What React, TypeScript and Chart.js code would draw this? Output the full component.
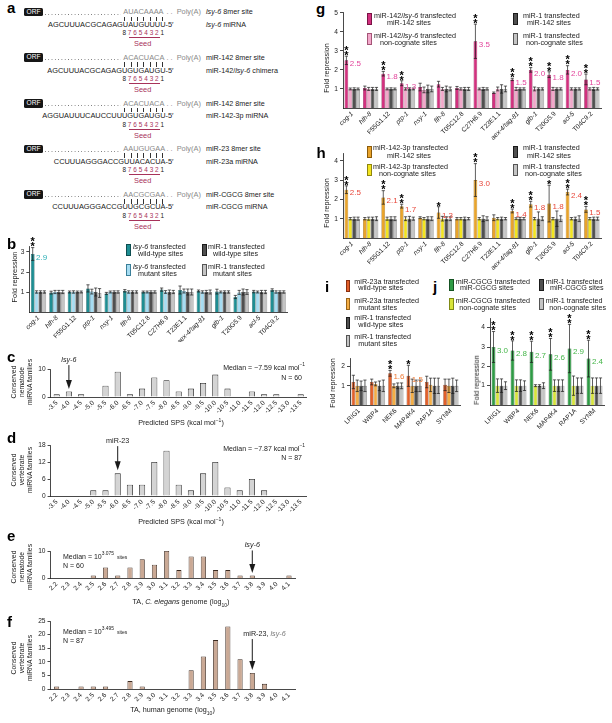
import React, { useEffect, useRef } from 'react';
import { Chart, registerables } from 'chart.js';

Chart.register(...registerables);

const FONT = '"Liberation Sans", Arial, Helvetica, sans-serif';
const INK = '#1a1a1a';
const TICK = 6.6;
const TXT = 7.2;
const SEED = '#a7325a';

// ---------------- categories ----------------
const geneNames = ['cog-1', 'hlh-8', 'F55G1.12', 'ptp-1', 'nsy-1', 'flh-8', 'T05C12.8', 'C27H6.9', 'T23E1.1', 'aex-4/tag-81', 'glb-1', 'T20G5.9', 'acl-5', 'T04C9.2'];
const geneItalic = [true, true, false, true, true, true, false, false, false, true, true, false, true, false];
const humanGenes = ['LRIG1', 'WBP4', 'NEK6', 'MAP4K4', 'RAP1A', 'SYNM'];
const spsBins = ['-3.5', '-4.0', '-4.5', '-5.0', '-5.5', '-6.0', '-6.5', '-7.0', '-7.5', '-8.0', '-8.5', '-9.0', '-9.5', '-10.0', '-10.5', '-11.0', '-11.5', '-12.0', '-12.5', '-13.0', '-13.5'];
const taBins = ['2.2', '2.3', '2.4', '2.5', '2.6', '2.7', '2.8', '2.9', '3.0', '3.1', '3.2', '3.3', '3.4', '3.5', '3.6', '3.7', '3.8', '3.9', '4.0', '4.1'];

// ---------------- panel b ----------------
const bLsy6WildType = [2.9, 0.97, 1.0, 1.18, 0.93, 1.06, 1.0, 1.12, 1.1, 1.05, 1.02, 0.75, 1.02, 1.1];
const bLsy6WildTypeErr = [0.32, 0.07, 0.05, 0.18, 0.05, 0.06, 0.05, 0.08, 0.2, 0.05, 0.12, 0.08, 0.06, 0.06];
const bLsy6Mutant = [1.0, 1.0, 1.0, 1.02, 1.0, 1.0, 1.0, 1.0, 1.05, 1.0, 1.0, 0.98, 1.0, 1.0];
const bLsy6MutantErr = [0.06, 0.08, 0.06, 0.12, 0.05, 0.06, 0.05, 0.07, 0.1, 0.06, 0.05, 0.1, 0.05, 0.06];
const bMir1WildType = [1.0, 1.0, 1.0, 1.0, 1.0, 1.0, 1.0, 1.0, 1.0, 1.0, 1.0, 1.0, 1.0, 1.0];
const bMir1WildTypeErr = [0.06, 0.08, 0.05, 0.2, 0.06, 0.06, 0.06, 0.1, 0.15, 0.08, 0.06, 0.15, 0.08, 0.06];
const bMir1Mutant = [1.0, 1.0, 1.0, 0.95, 1.0, 1.0, 1.0, 1.0, 1.0, 1.0, 1.0, 1.0, 1.0, 1.0];
const bMir1MutantErr = [0.06, 0.08, 0.05, 0.22, 0.06, 0.06, 0.06, 0.08, 0.15, 0.1, 0.06, 0.12, 0.08, 0.06];
const bStars = [2, 0, 0, 0, 0, 0, 0, 0, 0, 0, 0, 0, 0, 0];
const bValueLabels = ['2.9', '', '', '', '', '', '', '', '', '', '', '', '', ''];

// ---------------- panel c / d (SPS histograms) ----------------
const cNematodeFamilies = [1, 2, 1, 0, 4, 9, 1, 3, 7, 6, 2, 3, 5, 8, 3, 0, 2, 1, 1, 0, 1];
const dVertebrateFamilies = [0, 0, 0, 2, 2, 8, 4, 4, 12, 16, 4, 2, 8, 12, 3, 2, 6, 2, 0, 0, 0];

// ---------------- panel e / f (TA histograms) ----------------
const eNematodeFamilies = [0, 0, 0, 1, 4, 1, 4, 7, 5, 10, 3, 8, 8, 3, 3, 1, 1, 0, 0, 1];
const fVertebrateFamilies = [1, 0, 1, 1, 1, 0, 3, 1, 0, 0, 0, 7, 12, 18, 23, 11, 6, 2, 0, 0];

// ---------------- panel g ----------------
const gChimeraMir142Sites = [2.5, 1.05, 1.8, 1.3, 1.1, 1.25, 1.05, 3.5, 0.8, 1.5, 2.0, 1.75, 2.0, 1.5];
const gChimeraMir142SitesErr = [0.22, 0.1, 0.12, 0.13, 0.2, 0.15, 0.08, 0.9, 0.04, 0.06, 0.12, 0.15, 0.22, 0.28];
const gChimeraNonCognate = [1.0, 1.0, 1.0, 1.0, 0.95, 1.0, 1.0, 1.0, 1.0, 1.0, 1.0, 1.0, 1.0, 1.0];
const gChimeraNonCognateErr = [0.05, 0.08, 0.05, 0.06, 0.15, 0.08, 0.06, 0.05, 0.1, 0.08, 0.1, 0.08, 0.06, 0.06];
const gMir1Mir142Sites = [1.0, 1.0, 1.0, 1.0, 1.0, 1.0, 1.0, 1.0, 1.0, 1.0, 1.0, 1.0, 1.0, 1.0];
const gMir1Mir142SitesErr = [0.06, 0.08, 0.06, 0.06, 0.2, 0.15, 0.08, 0.08, 0.22, 0.06, 0.06, 0.06, 0.06, 0.08];
const gMir1NonCognate = [1.0, 1.0, 1.0, 1.0, 1.0, 1.0, 1.0, 1.0, 1.0, 1.0, 1.0, 1.0, 1.0, 1.0];
const gMir1NonCognateErr = [0.05, 0.08, 0.05, 0.05, 0.15, 0.1, 0.08, 0.06, 0.15, 0.06, 0.06, 0.06, 0.06, 0.06];
const gStars = [2, 0, 2, 2, 0, 0, 0, 2, 0, 2, 2, 2, 2, 2];
const gValueLabels = ['2.5', '', '1.8', '1.3', '', '', '', '3.5', '', '1.5', '2.0', '1.8', '2.0', '1.5'];

// ---------------- panel h ----------------
const h3pMir142Sites = [2.5, 1.0, 2.1, 1.65, 1.05, 1.32, 1.0, 3.0, 1.05, 1.4, 1.75, 1.78, 2.38, 1.48];
const h3pMir142SitesErr = [0.2, 0.06, 0.35, 0.1, 0.05, 0.3, 0.06, 0.85, 0.15, 0.1, 0.15, 0.95, 0.15, 0.15];
const h3pNonCognate = [1.0, 1.0, 1.0, 1.0, 1.0, 1.0, 1.0, 1.0, 1.0, 1.0, 1.0, 1.0, 1.0, 1.0];
const h3pNonCognateErr = [0.06, 0.08, 0.08, 0.1, 0.06, 0.12, 0.06, 0.06, 0.06, 0.05, 0.06, 0.06, 0.06, 0.06];
const hMir1Mir142Sites = [1.0, 1.0, 1.0, 1.0, 1.0, 1.0, 1.0, 1.0, 1.0, 1.0, 1.0, 1.0, 1.0, 1.0];
const hMir1Mir142SitesErr = [0.08, 0.08, 0.1, 0.12, 0.1, 0.1, 0.08, 0.15, 0.08, 0.06, 0.35, 0.4, 0.08, 0.08];
const hMir1NonCognate = [1.0, 1.0, 1.0, 1.0, 1.0, 1.0, 1.0, 1.0, 1.0, 1.0, 1.0, 1.0, 1.0, 1.0];
const hMir1NonCognateErr = [0.08, 0.1, 0.1, 0.08, 0.1, 0.1, 0.06, 0.1, 0.06, 0.06, 0.1, 0.15, 0.15, 0.08];
const hStars = [2, 0, 2, 2, 0, 1, 0, 2, 0, 2, 2, 1, 2, 2];
const hValueLabels = ['2.5', '', '2.1', '1.7', '', '1.3', '', '3.0', '', '1.4', '1.8', '1.8', '2.4', '1.5'];

// ---------------- panel i ----------------
const iMir23WildType = [1.2, 1.2, 1.65, 1.52, 1.2, 1.05];
const iMir23WildTypeErr = [0.35, 0.15, 0.15, 0.55, 0.3, 0.3];
const iMir23Mutant = [1.0, 1.1, 1.0, 1.0, 1.05, 1.0];
const iMir23MutantErr = [0.3, 0.1, 0.1, 0.35, 0.35, 0.35];
const iMir1WildType = [1.0, 1.0, 1.0, 1.0, 1.0, 1.0];
const iMir1WildTypeErr = [0.25, 0.25, 0.15, 0.3, 0.4, 0.4];
const iMir1Mutant = [1.0, 1.0, 1.0, 1.0, 1.0, 1.0];
const iMir1MutantErr = [0.3, 0.3, 0.15, 0.3, 0.4, 0.3];
const iStars = [0, 0, 2, 1, 0, 0];
const iValueLabels = ['', '', '1.6', '1.5', '', ''];

// ---------------- panel j ----------------
const jCgcgSites = [3.0, 2.82, 2.75, 2.62, 2.92, 2.4];
const jCgcgSitesErr = [0.8, 0.5, 0.55, 0.82, 1.25, 0.95];
const jCgcgNonCognate = [1.0, 1.0, 1.0, 1.0, 1.0, 1.0];
const jCgcgNonCognateErr = [0.35, 0.3, 0.05, 0.3, 0.5, 0.4];
const jMir1CgcgSites = [1.0, 1.0, 1.0, 1.0, 1.0, 1.0];
const jMir1CgcgSitesErr = [0.35, 0.3, 0.05, 0.3, 0.4, 0.4];
const jMir1NonCognate = [1.0, 1.0, 1.0, 1.0, 1.0, 1.0];
const jMir1NonCognateErr = [0.2, 0.25, 0.15, 0.3, 0.4, 0.4];
const jStars = [2, 2, 2, 2, 2, 2];
const jValueLabels = ['3.0', '2.8', '2.7', '2.6', '2.9', '2.4'];

// ---------------- colours ----------------
const C = {
  teal: ['#1e8e93', '#0d4d50'], lblue: ['#a5dcf2', '#3b7f99'],
  dgray: ['#505050', '#1a1a1a'], lgray: ['#c4c4c4', '#555555'],
  magenta: ['#d2317f', '#7a1245'], pink: ['#f2a7ca', '#a45577'],
  orange: ['#e9a42b', '#8a5a0a'], yellow: ['#f3e51f', '#8f8510'],
  redor: ['#e2602a', '#8a3010'], lorange: ['#f5ae45', '#9a6518'],
  green: ['#2f9b45', '#155222'], ygreen: ['#d7e43a', '#7f8a15'],
};

// ---------------- layout helpers ----------------
type Rect = { L: number; T: number; R: number; B: number };
type Margins = { yw: number; pt: number; pr: number; xh: number };
type Box = { left: number; top: number; width: number; height: number; yw: number; pt: number; pr: number; xh: number };

function makeBox(a: Rect, m: Margins): Box {
  const left = Math.floor(a.L - m.yw);
  const top = Math.floor(a.T - m.pt);
  const width = Math.ceil(a.R + m.pr - left);
  const height = Math.ceil(a.B + m.xh - top);
  return { left, top, width, height, yw: a.L - left, pt: a.T - top, pr: left + width - a.R, xh: top + height - a.B };
}

const boxB = makeBox({ L: 29.3, T: 246, R: 287.2, B: 312 }, { yw: 18, pt: 12, pr: 3, xh: 30 });
const boxC = makeBox({ L: 50.6, T: 369, R: 306.8, B: 397 }, { yw: 18, pt: 14, pr: 3, xh: 20 });
const boxD = makeBox({ L: 50.6, T: 445, R: 306.8, B: 496 }, { yw: 18, pt: 10, pr: 3, xh: 20 });
const boxE = makeBox({ L: 50.5, T: 551, R: 295.1, B: 578.3 }, { yw: 18, pt: 14, pr: 3, xh: 18 });
const boxF = makeBox({ L: 50.5, T: 621, R: 295.1, B: 689.3 }, { yw: 18, pt: 18, pr: 3, xh: 18 });
const boxG = makeBox({ L: 343, T: 12.7, R: 601, B: 108 }, { yw: 16, pt: 10, pr: 3, xh: 36 });
const boxH = makeBox({ L: 343, T: 153, R: 601, B: 238 }, { yw: 16, pt: 8, pr: 3, xh: 38 });
const boxI = makeBox({ L: 350, T: 358, R: 460, B: 405 }, { yw: 16, pt: 10, pr: 3, xh: 26 });
const boxJ = makeBox({ L: 490, T: 318, R: 604, B: 405 }, { yw: 16, pt: 10, pr: 3, xh: 26 });

function baseOptions(box: Box) {
  return {
    animation: false,
    responsive: false,
    maintainAspectRatio: false,
    devicePixelRatio: 1,
    events: [],
    layout: { padding: { top: box.pt, right: box.pr, left: 0, bottom: 0 } },
    plugins: { legend: { display: false }, tooltip: { enabled: false }, title: { display: false } },
  };
}

function axisY(box: Box, ymax: number, yticks: number[]) {
  return {
    type: 'linear',
    min: 0,
    max: ymax,
    afterBuildTicks: (s: any) => { s.ticks = yticks.map((v) => ({ value: v })); },
    afterFit: (s: any) => { s.width = box.yw; s.paddingTop = 0; s.paddingBottom = 0; },
    grid: { display: true, drawOnChartArea: false, drawTicks: true, tickLength: 3, color: INK, lineWidth: 0.8 },
    border: { display: true, color: INK, width: 0.8 },
    ticks: { padding: 2, color: '#222', font: { family: FONT, size: TICK } },
  };
}

function axisX(box: Box, italic?: boolean[]) {
  return {
    type: 'category',
    offset: true,
    afterFit: (s: any) => { s.height = box.xh; s.paddingLeft = 0; s.paddingRight = 0; },
    grid: { display: false, drawTicks: false, tickLength: 0 },
    border: { display: true, color: INK, width: 0.8 },
    ticks: {
      autoSkip: false, minRotation: 45, maxRotation: 45, padding: 2, color: '#222',
      font: (c: any) => ({ family: FONT, size: TICK, style: italic && italic[c.index] ? 'italic' : 'normal' }),
    },
  };
}

type Series = { data: number[]; err: number[]; col: string[] };
type GroupPanel = {
  labels: string[]; italic?: boolean[]; series: Series[]; ymax: number; yticks: number[];
  stars: number[]; valueLabels: string[]; valueColor: string;
};

function overlayPlugin(p: GroupPanel) {
  return {
    id: 'overlay',
    afterDatasetsDraw(chart: any) {
      const ctx = chart.ctx;
      const ys = chart.scales.y;
      ctx.save();
      ctx.strokeStyle = INK;
      ctx.lineWidth = 0.7;
      p.series.forEach((s, di) => {
        const meta = chart.getDatasetMeta(di);
        meta.data.forEach((el: any, i: number) => {
          const v = s.data[i];
          const e = s.err[i];
          if (!e) return;
          const x = el.x;
          const yT = ys.getPixelForValue(v + e);
          const yB = ys.getPixelForValue(Math.max(0, v - e));
          const cap = Math.min(1.6, el.width / 2);
          ctx.beginPath();
          ctx.moveTo(x, yT); ctx.lineTo(x, yB);
          ctx.moveTo(x - cap, yT); ctx.lineTo(x + cap, yT);
          ctx.moveTo(x - cap, yB); ctx.lineTo(x + cap, yB);
          ctx.stroke();
        });
      });
      const meta0 = chart.getDatasetMeta(0);
      const main = p.series[0];
      meta0.data.forEach((el: any, i: number) => {
        const v = main.data[i];
        const top = ys.getPixelForValue(v + main.err[i]);
        ctx.fillStyle = '#000';
        ctx.font = `bold 11px ${FONT}`;
        ctx.textAlign = 'center';
        ctx.textBaseline = 'alphabetic';
        for (let k = 0; k < p.stars[i]; k++) {
          const cy = top - 3.5 - k * 5;
          ctx.fillText('*', el.x, cy + 6.3);
        }
        const lab = p.valueLabels[i];
        if (lab) {
          ctx.fillStyle = p.valueColor;
          ctx.font = `8px ${FONT}`;
          ctx.textAlign = 'left';
          ctx.textBaseline = 'middle';
          ctx.fillText(lab, el.x + el.width / 2 + 1.5, ys.getPixelForValue(v) + 3.5);
        }
      });
      ctx.restore();
    },
  };
}

function groupedChart(canvas: HTMLCanvasElement, box: Box, p: GroupPanel) {
  const datasets = p.series.map((s) => ({
    data: s.data,
    backgroundColor: s.col[0],
    borderColor: s.col[1],
    borderWidth: 0.6,
    categoryPercentage: 0.84,
    barPercentage: 0.95,
  }));
  return new Chart(canvas, {
    type: 'bar',
    data: { labels: p.labels, datasets },
    options: { ...baseOptions(box), scales: { x: axisX(box, p.italic), y: axisY(box, p.ymax, p.yticks) } },
    plugins: [overlayPlugin(p)],
  } as any);
}

type LabelPart = { text: string; italic?: boolean; color?: string };
type Arrow = { index: number; from: number; to: number; parts: LabelPart[]; anchor: number | null };
type HistPanel = { labels: string[]; data: number[]; col: string[]; ymax: number; yticks: number[]; barPct: number; arrow: Arrow };

function arrowPlugin(a: Arrow) {
  return {
    id: 'arrow',
    afterDatasetsDraw(chart: any) {
      const ctx = chart.ctx;
      const x = chart.scales.x.getPixelForValue(a.index);
      const y0 = chart.scales.y.getPixelForValue(a.from);
      const y1 = chart.scales.y.getPixelForValue(a.to);
      ctx.save();
      ctx.strokeStyle = INK;
      ctx.fillStyle = INK;
      ctx.lineWidth = 1;
      ctx.beginPath(); ctx.moveTo(x, y0); ctx.lineTo(x, y1 - 8); ctx.stroke();
      ctx.beginPath(); ctx.moveTo(x - 3, y1 - 9); ctx.lineTo(x + 3, y1 - 9); ctx.lineTo(x, y1); ctx.closePath(); ctx.fill();
      const fontOf = (pt: LabelPart) => `${pt.italic ? 'italic ' : ''}${TXT}px ${FONT}`;
      let total = 0;
      a.parts.forEach((pt) => { ctx.font = fontOf(pt); total += ctx.measureText(pt.text).width; });
      let cx = a.anchor === null ? x - total / 2 : x + a.anchor;
      ctx.textAlign = 'left';
      ctx.textBaseline = 'middle';
      a.parts.forEach((pt) => {
        ctx.font = fontOf(pt);
        ctx.fillStyle = pt.color || INK;
        ctx.fillText(pt.text, cx, y0 - 5);
        cx += ctx.measureText(pt.text).width;
      });
      ctx.restore();
    },
  };
}

function histChart(canvas: HTMLCanvasElement, box: Box, p: HistPanel) {
  return new Chart(canvas, {
    type: 'bar',
    data: {
      labels: p.labels,
      datasets: [{
        data: p.data,
        backgroundColor: p.col[0],
        borderColor: p.col[1],
        borderWidth: (c: any) => (c.raw > 0 ? 0.8 : 0),
        categoryPercentage: 1,
        barPercentage: p.barPct,
      }],
    },
    options: { ...baseOptions(box), scales: { x: axisX(box), y: axisY(box, p.ymax, p.yticks) } },
    plugins: [arrowPlugin(p.arrow)],
  } as any);
}

// ---------------- panel configs ----------------
const panelB: GroupPanel = {
  labels: geneNames, italic: geneItalic, ymax: 3.3, yticks: [1, 2, 3], stars: bStars, valueLabels: bValueLabels, valueColor: '#2aaeb5',
  series: [
    { data: bLsy6WildType, err: bLsy6WildTypeErr, col: C.teal },
    { data: bLsy6Mutant, err: bLsy6MutantErr, col: C.lblue },
    { data: bMir1WildType, err: bMir1WildTypeErr, col: C.dgray },
    { data: bMir1Mutant, err: bMir1MutantErr, col: C.lgray },
  ],
};
const panelG: GroupPanel = {
  labels: geneNames, italic: geneItalic, ymax: 5, yticks: [1, 2, 3, 4, 5], stars: gStars, valueLabels: gValueLabels, valueColor: '#e2449b',
  series: [
    { data: gChimeraMir142Sites, err: gChimeraMir142SitesErr, col: C.magenta },
    { data: gChimeraNonCognate, err: gChimeraNonCognateErr, col: C.pink },
    { data: gMir1Mir142Sites, err: gMir1Mir142SitesErr, col: C.dgray },
    { data: gMir1NonCognate, err: gMir1NonCognateErr, col: C.lgray },
  ],
};
const panelH: GroupPanel = {
  labels: geneNames, italic: geneItalic, ymax: 4.4, yticks: [1, 2, 3, 4], stars: hStars, valueLabels: hValueLabels, valueColor: '#e8473b',
  series: [
    { data: h3pMir142Sites, err: h3pMir142SitesErr, col: C.orange },
    { data: h3pNonCognate, err: h3pNonCognateErr, col: C.yellow },
    { data: hMir1Mir142Sites, err: hMir1Mir142SitesErr, col: C.dgray },
    { data: hMir1NonCognate, err: hMir1NonCognateErr, col: C.lgray },
  ],
};
const panelI: GroupPanel = {
  labels: humanGenes, ymax: 2.45, yticks: [1, 2], stars: iStars, valueLabels: iValueLabels, valueColor: '#ef7a35',
  series: [
    { data: iMir23WildType, err: iMir23WildTypeErr, col: C.redor },
    { data: iMir23Mutant, err: iMir23MutantErr, col: C.lorange },
    { data: iMir1WildType, err: iMir1WildTypeErr, col: C.dgray },
    { data: iMir1Mutant, err: iMir1MutantErr, col: C.lgray },
  ],
};
const panelJ: GroupPanel = {
  labels: humanGenes, ymax: 4.5, yticks: [1, 2, 3, 4], stars: jStars, valueLabels: jValueLabels, valueColor: '#45b649',
  series: [
    { data: jCgcgSites, err: jCgcgSitesErr, col: C.green },
    { data: jCgcgNonCognate, err: jCgcgNonCognateErr, col: C.ygreen },
    { data: jMir1CgcgSites, err: jMir1CgcgSitesErr, col: C.dgray },
    { data: jMir1NonCognate, err: jMir1NonCognateErr, col: C.lgray },
  ],
};

const histGray = ['#d4d4d4', '#1a1a1a'];
const histTan = ['#caa995', '#3b2a20'];
const panelC: HistPanel = { labels: spsBins, data: cNematodeFamilies, col: histGray, ymax: 10, yticks: [0, 10], barPct: 0.5,
  arrow: { index: 1, from: 11.4, to: 2.9, parts: [{ text: 'lsy-6', italic: true }], anchor: null } };
const panelD: HistPanel = { labels: spsBins, data: dVertebrateFamilies, col: histGray, ymax: 18, yticks: [0, 6, 12, 18], barPct: 0.5,
  arrow: { index: 5, from: 17.6, to: 9.1, parts: [{ text: 'miR-23' }], anchor: null } };
const panelE: HistPanel = { labels: taBins, data: eNematodeFamilies, col: histTan, ymax: 10, yticks: [0, 10], barPct: 0.42,
  arrow: { index: 16, from: 10.2, to: 1.9, parts: [{ text: 'lsy-6', italic: true }], anchor: null } };
const panelF: HistPanel = { labels: taBins, data: fVertebrateFamilies, col: histTan, ymax: 25, yticks: [0, 5, 10, 15, 20, 25], barPct: 0.42,
  arrow: { index: 16, from: 18.4, to: 7.1, parts: [{ text: 'miR-23, ' }, { text: 'lsy-6', italic: true, color: '#777' }], anchor: -9 } };

// ---------------- panel a content ----------------
const seedRows = [
  { site: 'AUACAAAA', mirna: 'AGCUUUACGCAGAGUAUGUUUU-5\u2032', siteLabel: <><i>lsy-6</i> 8mer site</>, mirnaLabel: <><i>lsy-6</i> miRNA</> },
  { site: 'ACACUACA', mirna: 'AGCUUUACGCAGAGUGUGAUGU-5\u2032', siteLabel: <>miR-142 8mer site</>, mirnaLabel: <>miR-142/<i>lsy-6</i> chimera</> },
  { site: 'ACACUACA', mirna: 'AGGUAUUUCAUCCUUUGUGAUGU-5\u2032', siteLabel: <>miR-142 8mer site</>, mirnaLabel: <>miR-142-3p miRNA</> },
  { site: 'AAUGUGAA', mirna: 'CCUUUAGGGACCGUUACACUA-5\u2032', siteLabel: <>miR-23 8mer site</>, mirnaLabel: <>miR-23a miRNA</> },
  { site: 'AACGCGAA', mirna: 'CCUUUAGGGACCGUUGCGCUA-5\u2032', siteLabel: <>miR-CGCG 8mer site</>, mirnaLabel: <>miR-CGCG miRNA</> },
];

// ---------------- components ----------------
function ChartCanvas({ box, build }: { box: Box; build: (c: HTMLCanvasElement) => Chart }) {
  const ref = useRef<HTMLCanvasElement>(null);
  useEffect(() => {
    const chart = build(ref.current as HTMLCanvasElement);
    return () => chart.destroy();
  }, []);
  return (
    <canvas ref={ref} width={box.width} height={box.height}
      style={{ position: 'absolute', left: box.left, top: box.top, width: box.width, height: box.height }} />
  );
}

function Txt({ x, y, size = TXT, align = 'left', color = INK, children, style }: any) {
  const tx = align === 'left' ? '0' : align === 'center' ? '-50%' : '-100%';
  return (
    <div style={{ position: 'absolute', left: x, top: y, transform: `translate(${tx},-50%)`, fontSize: size, lineHeight: 1,
      whiteSpace: 'nowrap', color, fontFamily: FONT, ...style }}>{children}</div>
  );
}

function VTitle({ x, y, lines, size = TXT, lh = 1.15 }: any) {
  return (
    <div style={{ position: 'absolute', left: x, top: y, transform: 'translate(-50%,-50%) rotate(-90deg)', textAlign: 'center',
      fontSize: size, lineHeight: lh, whiteSpace: 'nowrap', fontFamily: FONT, color: INK }}>
      {lines.map((l: string, i: number) => <div key={i}>{l}</div>)}
    </div>
  );
}

function Letter({ x, base, ch }: any) {
  const size = 15;
  return <div style={{ position: 'absolute', left: x, top: base - 0.8465 * size, fontSize: size, lineHeight: `${size}px`,
    fontWeight: 700, fontFamily: FONT, color: '#000' }}>{ch}</div>;
}

function Swatch({ x, top, col }: any) {
  return <div style={{ position: 'absolute', left: x, top, width: 4.5, height: 12, background: col[0],
    border: `0.6px solid ${col[1]}`, boxSizing: 'border-box' }} />;
}

function LegendItem({ sx, sTop, col, l1, l2 }: any) {
  return (
    <>
      <Swatch x={sx} top={sTop} col={col} />
      <Txt x={l1[0]} y={l1[1]}>{l1[2]}</Txt>
      <Txt x={l2[0]} y={l2[1]}>{l2[2]}</Txt>
    </>
  );
}

function SeedPanel() {
  const out: any[] = [];
  seedRows.forEach((r, k) => {
    const y0 = 12.3 + k * 45.6;
    out.push(<div key={`orf${k}`} style={{ position: 'absolute', left: 24, top: y0 - 4.5, width: 19, height: 8.5, background: '#161616',
      borderRadius: 1.5, color: '#fff', fontSize: 6.6, lineHeight: '8.5px', textAlign: 'center', fontFamily: FONT }}>ORF</div>);
    out.push(<div key={`dot${k}`} style={{ position: 'absolute', left: 45, top: y0 + 1.5, width: 76, height: 1,
      backgroundImage: 'linear-gradient(to right, #777 1px, transparent 1px)', backgroundSize: '3.3px 1px' }} />);
    out.push(<Txt key={`site${k}`} x={123.3} y={y0} size={7.4} color="#8a8a8a">{r.site}</Txt>);
    out.push(<Txt key={`dd${k}`} x={166.5} y={y0} size={7.4} color="#8a8a8a">. .</Txt>);
    out.push(<Txt key={`pa${k}`} x={176.7} y={y0} size={7.4} color="#8a8a8a">Poly(A)</Txt>);
    out.push(<Txt key={`sl${k}`} x={206} y={y0} size={7.2}>{r.siteLabel}</Txt>);
    for (let j = 0; j < 7; j++) {
      out.push(<div key={`bar${k}-${j}`} style={{ position: 'absolute', left: 124.3 + j * 6.3, top: y0 + 4.3, width: 0.8, height: 4.6, background: '#333' }} />);
    }
    out.push(<Txt key={`mi${k}`} x={173.5} y={y0 + 12.7} size={7.4} align="right">{r.mirna}</Txt>);
    out.push(<Txt key={`ml${k}`} x={206} y={y0 + 12.7} size={7.2}>{r.mirnaLabel}</Txt>);
    '87654321'.split('').forEach((d, j) => {
      out.push(<Txt key={`dg${k}-${j}`} x={124.2 + j * 5.45} y={y0 + 21} size={6.4} align="center" color={j >= 1 && j <= 6 ? SEED : INK}>{d}</Txt>);
    });
    out.push(<div key={`ul${k}`} style={{ position: 'absolute', left: 129, top: y0 + 25, width: 30.5, height: 0.9, background: SEED }} />);
    out.push(<Txt key={`sd${k}`} x={142.7} y={y0 + 32} size={7.4} align="center" color={SEED}>Seed</Txt>);
  });
  return <>{out}</>;
}

const sup = (t: string) => <sup style={{ fontSize: '0.7em', lineHeight: 0, verticalAlign: 'super' }}>{t}</sup>;
const sub = (t: string) => <sub style={{ fontSize: '0.7em', lineHeight: 0, verticalAlign: 'sub' }}>{t}</sub>;

export default function App() {
  return (
    <div style={{ position: 'absolute', left: 0, top: 0, width: 612, height: 723, background: '#fff', overflow: 'hidden', fontFamily: FONT }}>
      <ChartCanvas box={boxB} build={(c) => groupedChart(c, boxB, panelB)} />
      <ChartCanvas box={boxC} build={(c) => histChart(c, boxC, panelC)} />
      <ChartCanvas box={boxD} build={(c) => histChart(c, boxD, panelD)} />
      <ChartCanvas box={boxE} build={(c) => histChart(c, boxE, panelE)} />
      <ChartCanvas box={boxF} build={(c) => histChart(c, boxF, panelF)} />
      <ChartCanvas box={boxG} build={(c) => groupedChart(c, boxG, panelG)} />
      <ChartCanvas box={boxH} build={(c) => groupedChart(c, boxH, panelH)} />
      <ChartCanvas box={boxI} build={(c) => groupedChart(c, boxI, panelI)} />
      <ChartCanvas box={boxJ} build={(c) => groupedChart(c, boxJ, panelJ)} />

      <SeedPanel />

      <Letter x={7} base={13} ch="a" />
      <Letter x={7} base={249} ch="b" />
      <Letter x={7} base={362} ch="c" />
      <Letter x={7} base={443} ch="d" />
      <Letter x={7} base={541} ch="e" />
      <Letter x={7} base={627} ch="f" />
      <Letter x={316} base={14} ch="g" />
      <Letter x={316.5} base={158} ch="h" />
      <Letter x={325} base={292} ch="i" />
      <Letter x={433} base={292} ch="j" />

      {/* axis titles */}
      <VTitle x={14.5} y={277} lines={['Fold repression']} size={7.4} />
      <VTitle x={22} y={382} lines={['Conserved', 'nematode', 'miRNA families']} size={6.8} />
      <VTitle x={22} y={470} lines={['Conserved', 'vertebrate', 'miRNA families']} size={6.8} />
      <VTitle x={22} y={567} lines={['Conserved', 'nematode', 'miRNA families']} size={6.8} />
      <VTitle x={22} y={658} lines={['Conserved', 'vertebrate', 'miRNA families']} size={6.8} />
      <VTitle x={327} y={68} lines={['Fold repression']} size={7.2} />
      <VTitle x={327} y={203} lines={['Fold repression']} size={7.2} />
      <VTitle x={333} y={383} lines={['Fold repression']} size={7.2} />
      <VTitle x={477} y={380} lines={['Fold repression']} size={7.2} />

      <Txt x={181} y={423} align="center">Predicted SPS (kcal mol{sup('\u22121')})</Txt>
      <Txt x={181} y={522} align="center">Predicted SPS (kcal mol{sup('\u22121')})</Txt>
      <Txt x={181} y={602} align="center">TA, <i>C. elegans</i> genome (log{sub('10')})</Txt>
      <Txt x={172.5} y={710} align="center">TA, human genome (log{sub('10')})</Txt>

      {/* histogram annotations */}
      <Txt x={305} y={367} align="right" size={7}>Median = {'\u2212'}7.59 kcal mol{sup('\u22121')}</Txt>
      <Txt x={302} y={377} align="right" size={7}>N = 60</Txt>
      <Txt x={305} y={448} align="right" size={7}>Median = {'\u2212'}7.87 kcal mol{sup('\u22121')}</Txt>
      <Txt x={302} y={457} align="right" size={7}>N = 87</Txt>
      <Txt x={63} y={556} size={7}>Median = 10{sup('3.075')}<span style={{ fontSize: 5, marginLeft: 3 }}>sites</span></Txt>
      <Txt x={63} y={565} size={7}>N = 60</Txt>
      <Txt x={63} y={631} size={7}>Median = 10{sup('3.495')}<span style={{ fontSize: 5, marginLeft: 3 }}>sites</span></Txt>
      <Txt x={63} y={640} size={7}>N = 87</Txt>

      {/* legend b */}
      <LegendItem sx={126} sTop={244} col={C.teal} l1={[133, 247, <><i>lsy-6</i> transfected</>]} l2={[138, 254, 'wild-type sites']} />
      <LegendItem sx={126} sTop={264} col={C.lblue} l1={[133, 267, <><i>lsy-6</i> transfected</>]} l2={[138, 274, 'mutant sites']} />
      <LegendItem sx={202} sTop={244} col={C.dgray} l1={[208, 247, 'miR-1 transfected']} l2={[213, 254, 'wild-type sites']} />
      <LegendItem sx={202} sTop={264} col={C.lgray} l1={[208, 267, 'miR-1 transfected']} l2={[213, 274, 'mutant sites']} />

      {/* legend g */}
      <LegendItem sx={367} sTop={13} col={C.magenta} l1={[374, 16, <>miR-142/<i>lsy-6</i> transfected</>]} l2={[387, 23, 'miR-142 sites']} />
      <LegendItem sx={367} sTop={33} col={C.pink} l1={[374, 36, <>miR-142/<i>lsy-6</i> transfected</>]} l2={[380, 43, 'non-cognate sites']} />
      <LegendItem sx={513} sTop={13} col={C.dgray} l1={[523, 16, 'miR-1 transfected']} l2={[527, 23, 'miR-142 sites']} />
      <LegendItem sx={513} sTop={33} col={C.lgray} l1={[523, 36, 'miR-1 transfected']} l2={[526, 43, 'non-cognate sites']} />

      {/* legend h */}
      <LegendItem sx={367} sTop={145.7} col={C.orange} l1={[373, 148.3, 'miR-142-3p transfected']} l2={[387, 155.7, 'miR-142 sites']} />
      <LegendItem sx={367} sTop={164.3} col={C.yellow} l1={[373, 166.7, 'miR-142-3p transfected']} l2={[379, 174, 'non-cognate sites']} />
      <LegendItem sx={513} sTop={145.7} col={C.dgray} l1={[523, 148.3, 'miR-1 transfected']} l2={[527, 155.7, 'miR-142 sites']} />
      <LegendItem sx={513} sTop={164.3} col={C.lgray} l1={[523, 166.7, 'miR-1 transfected']} l2={[525, 174, 'non-cognate sites']} />

      {/* legend i */}
      <LegendItem sx={345.7} sTop={280} col={C.redor} l1={[354.3, 281.7, 'miR-23a transfected']} l2={[358.3, 288.3, 'wild-type sites']} />
      <LegendItem sx={345.7} sTop={298.3} col={C.lorange} l1={[354.3, 300.7, 'miR-23a transfected']} l2={[358.3, 307.7, 'mutant sites']} />
      <LegendItem sx={345.7} sTop={316.7} col={C.dgray} l1={[354.3, 318.3, 'miR-1 transfected']} l2={[358.3, 325, 'wild-type sites']} />
      <LegendItem sx={345.7} sTop={335} col={C.lgray} l1={[354.3, 337.3, 'miR-1 transfected']} l2={[358.3, 344.3, 'mutant sites']} />

      {/* legend j */}
      <LegendItem sx={449} sTop={279.3} col={C.green} l1={[455.7, 281.7, 'miR-CGCG transfected']} l2={[460, 288.3, 'miR-CGCG sites']} />
      <LegendItem sx={449} sTop={298.3} col={C.ygreen} l1={[455.7, 300.7, 'miR-CGCG transfected']} l2={[459.3, 307.7, 'non-cognate sites']} />
      <LegendItem sx={539.3} sTop={279.3} col={C.dgray} l1={[545.7, 281.7, 'miR-1 transfected']} l2={[550, 288.3, 'miR-CGCG sites']} />
      <LegendItem sx={539.3} sTop={298.3} col={C.lgray} l1={[545.7, 300.7, 'miR-1 transfected']} l2={[549.3, 307.7, 'non-cognate sites']} />
    </div>
  );
}
